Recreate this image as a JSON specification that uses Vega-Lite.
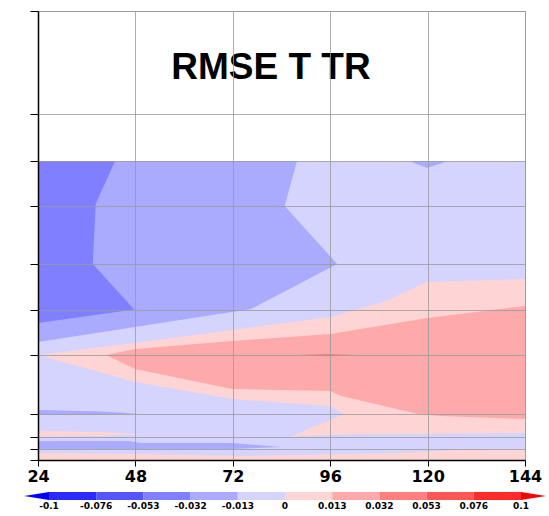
{
  "$schema": "https://vega.github.io/schema/vega-lite/v6.json",
  "padding": {"left": 23, "top": 10, "right": 4, "bottom": 2},
  "spacing": 7,
  "config": {
    "font": "DejaVu Sans",
    "view": {"stroke": null}
  },
  "datasets": {
    "contours": [
      {"poly": "bg", "band": "-0.013 to 0", "i": 0, "t": 24, "h": 0},
      {"poly": "bg", "band": "-0.013 to 0", "i": 1, "t": 144, "h": 0},
      {"poly": "bg", "band": "-0.013 to 0", "i": 2, "t": 144, "h": 299},
      {"poly": "bg", "band": "-0.013 to 0", "i": 3, "t": 24, "h": 299},

      {"poly": "c4top", "band": "-0.032 to -0.013", "i": 0, "t": 24, "h": 299},
      {"poly": "c4top", "band": "-0.032 to -0.013", "i": 1, "t": 87.8, "h": 299},
      {"poly": "c4top", "band": "-0.032 to -0.013", "i": 2, "t": 84.8, "h": 254},
      {"poly": "c4top", "band": "-0.032 to -0.013", "i": 3, "t": 97.7, "h": 196},
      {"poly": "c4top", "band": "-0.032 to -0.013", "i": 4, "t": 76.5, "h": 151},
      {"poly": "c4top", "band": "-0.032 to -0.013", "i": 5, "t": 47.9, "h": 133},
      {"poly": "c4top", "band": "-0.032 to -0.013", "i": 6, "t": 24, "h": 118},
      {"poly": "c4tri", "band": "-0.032 to -0.013", "i": 0, "t": 115.4, "h": 299},
      {"poly": "c4tri", "band": "-0.032 to -0.013", "i": 1, "t": 125, "h": 299},
      {"poly": "c4tri", "band": "-0.032 to -0.013", "i": 2, "t": 119.9, "h": 292},
      {"poly": "c4slv", "band": "-0.032 to -0.013", "i": 0, "t": 24, "h": 50},
      {"poly": "c4slv", "band": "-0.032 to -0.013", "i": 1, "t": 39.5, "h": 48.5},
      {"poly": "c4slv", "band": "-0.032 to -0.013", "i": 2, "t": 48.6, "h": 46.5},
      {"poly": "c4slv", "band": "-0.032 to -0.013", "i": 3, "t": 39.5, "h": 45.5},
      {"poly": "c4slv", "band": "-0.032 to -0.013", "i": 4, "t": 24, "h": 45.5},
      {"poly": "c4band", "band": "-0.032 to -0.013", "i": 0, "t": 24, "h": 19},
      {"poly": "c4band", "band": "-0.032 to -0.013", "i": 1, "t": 46.2, "h": 19},
      {"poly": "c4band", "band": "-0.032 to -0.013", "i": 2, "t": 49.4, "h": 17},
      {"poly": "c4band", "band": "-0.032 to -0.013", "i": 3, "t": 71.8, "h": 17},
      {"poly": "c4band", "band": "-0.032 to -0.013", "i": 4, "t": 83.9, "h": 13},
      {"poly": "c4band", "band": "-0.032 to -0.013", "i": 5, "t": 71.8, "h": 11},
      {"poly": "c4band", "band": "-0.032 to -0.013", "i": 6, "t": 24, "h": 11},

      {"poly": "c3", "band": "-0.053 to -0.032", "i": 0, "t": 24, "h": 299},
      {"poly": "c3", "band": "-0.053 to -0.032", "i": 1, "t": 43, "h": 299},
      {"poly": "c3", "band": "-0.053 to -0.032", "i": 2, "t": 38.2, "h": 256},
      {"poly": "c3", "band": "-0.053 to -0.032", "i": 3, "t": 37.5, "h": 196},
      {"poly": "c3", "band": "-0.053 to -0.032", "i": 4, "t": 47.7, "h": 150.5},
      {"poly": "c3", "band": "-0.053 to -0.032", "i": 5, "t": 24, "h": 137},

      {"poly": "c6big", "band": "0 to 0.013", "i": 0, "t": 24, "h": 105},
      {"poly": "c6big", "band": "0 to 0.013", "i": 1, "t": 47.9, "h": 117},
      {"poly": "c6big", "band": "0 to 0.013", "i": 2, "t": 71.8, "h": 130},
      {"poly": "c6big", "band": "0 to 0.013", "i": 3, "t": 96, "h": 143},
      {"poly": "c6big", "band": "0 to 0.013", "i": 4, "t": 109.8, "h": 159},
      {"poly": "c6big", "band": "0 to 0.013", "i": 5, "t": 119.6, "h": 178},
      {"poly": "c6big", "band": "0 to 0.013", "i": 6, "t": 144, "h": 181},
      {"poly": "c6big", "band": "0 to 0.013", "i": 7, "t": 144, "h": 27},
      {"poly": "c6big", "band": "0 to 0.013", "i": 8, "t": 98.7, "h": 25.5},
      {"poly": "c6big", "band": "0 to 0.013", "i": 9, "t": 86.3, "h": 23.5},
      {"poly": "c6big", "band": "0 to 0.013", "i": 10, "t": 99.4, "h": 46},
      {"poly": "c6big", "band": "0 to 0.013", "i": 11, "t": 96, "h": 54},
      {"poly": "c6big", "band": "0 to 0.013", "i": 12, "t": 71.8, "h": 61},
      {"poly": "c6big", "band": "0 to 0.013", "i": 13, "t": 47.9, "h": 78},
      {"poly": "c6slv", "band": "0 to 0.013", "i": 0, "t": 24, "h": 29},
      {"poly": "c6slv", "band": "0 to 0.013", "i": 1, "t": 39.5, "h": 28},
      {"poly": "c6slv", "band": "0 to 0.013", "i": 2, "t": 49.4, "h": 26},
      {"poly": "c6slv", "band": "0 to 0.013", "i": 3, "t": 39.5, "h": 24},
      {"poly": "c6slv", "band": "0 to 0.013", "i": 4, "t": 24, "h": 23.5},
      {"poly": "c6bot", "band": "0 to 0.013", "i": 0, "t": 24, "h": 7},
      {"poly": "c6bot", "band": "0 to 0.013", "i": 1, "t": 49.4, "h": 6},
      {"poly": "c6bot", "band": "0 to 0.013", "i": 2, "t": 74, "h": 4},
      {"poly": "c6bot", "band": "0 to 0.013", "i": 3, "t": 113.4, "h": 7},
      {"poly": "c6bot", "band": "0 to 0.013", "i": 4, "t": 127, "h": 10},
      {"poly": "c6bot", "band": "0 to 0.013", "i": 5, "t": 144, "h": 11},
      {"poly": "c6bot", "band": "0 to 0.013", "i": 6, "t": 144, "h": 0},
      {"poly": "c6bot", "band": "0 to 0.013", "i": 7, "t": 24, "h": 0},

      {"poly": "c7", "band": "0.013 to 0.032", "i": 0, "t": 40.8, "h": 105},
      {"poly": "c7", "band": "0.013 to 0.032", "i": 1, "t": 47.9, "h": 111},
      {"poly": "c7", "band": "0.013 to 0.032", "i": 2, "t": 71.8, "h": 119},
      {"poly": "c7", "band": "0.013 to 0.032", "i": 3, "t": 96, "h": 126},
      {"poly": "c7", "band": "0.013 to 0.032", "i": 4, "t": 119.9, "h": 142},
      {"poly": "c7", "band": "0.013 to 0.032", "i": 5, "t": 144, "h": 154},
      {"poly": "c7", "band": "0.013 to 0.032", "i": 6, "t": 144, "h": 41},
      {"poly": "c7", "band": "0.013 to 0.032", "i": 7, "t": 123.3, "h": 44},
      {"poly": "c7", "band": "0.013 to 0.032", "i": 8, "t": 117.6, "h": 46},
      {"poly": "c7", "band": "0.013 to 0.032", "i": 9, "t": 98.7, "h": 64},
      {"poly": "c7", "band": "0.013 to 0.032", "i": 10, "t": 96, "h": 69},
      {"poly": "c7", "band": "0.013 to 0.032", "i": 11, "t": 71.8, "h": 71},
      {"poly": "c7", "band": "0.013 to 0.032", "i": 12, "t": 47.9, "h": 91},

      {"poly": "c8", "band": "0.032 to 0.053", "i": 0, "t": 88.1, "h": 105},
      {"poly": "c8", "band": "0.032 to 0.053", "i": 1, "t": 95, "h": 106.2},
      {"poly": "c8", "band": "0.032 to 0.053", "i": 2, "t": 101.9, "h": 105},
      {"poly": "c8", "band": "0.032 to 0.053", "i": 3, "t": 95, "h": 103.8}
    ],
    "segments": [
      {"k0": 0, "k1": 1, "band": "-0.1 to -0.076"},
      {"k0": 1, "k1": 2, "band": "-0.076 to -0.053"},
      {"k0": 2, "k1": 3, "band": "-0.053 to -0.032"},
      {"k0": 3, "k1": 4, "band": "-0.032 to -0.013"},
      {"k0": 4, "k1": 5, "band": "-0.013 to 0"},
      {"k0": 5, "k1": 6, "band": "0 to 0.013"},
      {"k0": 6, "k1": 7, "band": "0.013 to 0.032"},
      {"k0": 7, "k1": 8, "band": "0.032 to 0.053"},
      {"k0": 8, "k1": 9, "band": "0.053 to 0.076"},
      {"k0": 9, "k1": 10, "band": "0.076 to 0.1"}
    ],
    "ends": [
      {"poly": "under", "band": "below -0.1", "i": 0, "k": 0, "v": 0},
      {"poly": "under", "band": "below -0.1", "i": 1, "k": -0.53, "v": 0.5},
      {"poly": "under", "band": "below -0.1", "i": 2, "k": 0, "v": 1},
      {"poly": "over", "band": "above 0.1", "i": 0, "k": 10, "v": 0},
      {"poly": "over", "band": "above 0.1", "i": 1, "k": 10.53, "v": 0.5},
      {"poly": "over", "band": "above 0.1", "i": 2, "k": 10, "v": 1}
    ],
    "ticklabels": [
      {"k": 0, "label": "-0.1"},
      {"k": 1, "label": "-0.076"},
      {"k": 2, "label": "-0.053"},
      {"k": 3, "label": "-0.032"},
      {"k": 4, "label": "-0.013"},
      {"k": 5, "label": "0"},
      {"k": 6, "label": "0.013"},
      {"k": 7, "label": "0.032"},
      {"k": 8, "label": "0.053"},
      {"k": 9, "label": "0.076"},
      {"k": 10, "label": "0.1"}
    ],
    "heading": [
      {"label": "RMSE T TR", "t": 81.4, "h": 381}
    ]
  },
  "vconcat": [
    {
      "width": 487,
      "height": 449,
      "view": {"stroke": "#a8a8a8", "strokeWidth": 1},
      "data": {"name": "contours"},
      "encoding": {
        "x": {
          "field": "t", "type": "quantitative",
          "scale": {"domain": [24, 144], "nice": false, "zero": false},
          "axis": {
            "title": null, "values": [24, 48, 72, 96, 120, 144], "format": "d",
            "labelFont": "DejaVu Sans", "labelFontWeight": "bold", "labelFontSize": 16,
            "labelColor": "#000", "labelPadding": 2, "labelFlush": false, "labelOverlap": false,
            "tickColor": "#000", "tickSize": 6, "tickWidth": 1,
            "domainColor": "#000", "domainWidth": 1.5,
            "grid": true, "gridColor": "#9a9a9a", "gridOpacity": 0.8, "gridWidth": 1,
            "zindex": 1
          }
        },
        "y": {
          "field": "h", "type": "quantitative",
          "scale": {"domain": [0, 449], "nice": false, "zero": false},
          "axis": {
            "title": null, "values": [0, 11, 23, 46, 105, 150, 196, 254, 299, 346, 449],
            "labels": false, "tickColor": "#000", "tickSize": 8, "tickWidth": 1,
            "domainColor": "#000", "domainWidth": 1.5,
            "grid": true, "gridColor": "#9a9a9a", "gridOpacity": 0.8, "gridWidth": 1,
            "minExtent": 0, "zindex": 1
          }
        }
      },
      "layer": [
        {
          "transform": [{"filter": "datum.band === '-0.013 to 0'"}],
          "mark": {"type": "line", "strokeWidth": 0},
          "encoding": {
            "detail": {"field": "poly"},
            "order": {"field": "i", "type": "quantitative"},
            "fill": {"field": "band", "type": "nominal", "legend": null,
              "scale": {
                "domain": ["below -0.1", "-0.1 to -0.076", "-0.076 to -0.053", "-0.053 to -0.032", "-0.032 to -0.013", "-0.013 to 0", "0 to 0.013", "0.013 to 0.032", "0.032 to 0.053", "0.053 to 0.076", "0.076 to 0.1", "above 0.1"],
                "range": ["#0000ff", "#2a2aff", "#5555ff", "#7f7fff", "#aaaaff", "#d4d4ff", "#ffd4d4", "#ffaaaa", "#ff7f7f", "#ff5555", "#ff2a2a", "#ff0000"]
              }}
          }
        },
        {
          "transform": [{"filter": "datum.band === '-0.032 to -0.013'"}],
          "mark": {"type": "line", "strokeWidth": 0},
          "encoding": {
            "detail": {"field": "poly"},
            "order": {"field": "i", "type": "quantitative"},
            "fill": {"field": "band", "type": "nominal", "legend": null}
          }
        },
        {
          "transform": [{"filter": "datum.band === '-0.053 to -0.032'"}],
          "mark": {"type": "line", "strokeWidth": 0},
          "encoding": {
            "detail": {"field": "poly"},
            "order": {"field": "i", "type": "quantitative"},
            "fill": {"field": "band", "type": "nominal", "legend": null}
          }
        },
        {
          "transform": [{"filter": "datum.band === '0 to 0.013'"}],
          "mark": {"type": "line", "strokeWidth": 0},
          "encoding": {
            "detail": {"field": "poly"},
            "order": {"field": "i", "type": "quantitative"},
            "fill": {"field": "band", "type": "nominal", "legend": null}
          }
        },
        {
          "transform": [{"filter": "datum.band === '0.013 to 0.032'"}],
          "mark": {"type": "line", "strokeWidth": 0},
          "encoding": {
            "detail": {"field": "poly"},
            "order": {"field": "i", "type": "quantitative"},
            "fill": {"field": "band", "type": "nominal", "legend": null}
          }
        },
        {
          "transform": [{"filter": "datum.band === '0.032 to 0.053'"}],
          "mark": {"type": "line", "strokeWidth": 0},
          "encoding": {
            "detail": {"field": "poly"},
            "order": {"field": "i", "type": "quantitative"},
            "fill": {"field": "band", "type": "nominal", "legend": null}
          }
        },
        {
          "data": {"name": "heading"},
          "mark": {"type": "text", "font": "Liberation Sans", "fontWeight": "bold", "fontSize": 37, "align": "center", "baseline": "alphabetic", "color": "#000"},
          "encoding": {"text": {"field": "label"}}
        },
        {
          "data": {"values": [{}]},
          "mark": {"type": "rule", "color": "#000", "strokeWidth": 1.5},
          "encoding": {"x": {"datum": 144}, "y": {"datum": 0}, "y2": {"datum": 449}}
        }
      ]
    },
    {
      "width": 487,
      "height": 8,
      "view": {"stroke": null},
      "layer": [
        {
          "data": {"name": "segments"},
          "mark": {"type": "rect"},
          "encoding": {
            "x": {"field": "k0", "type": "quantitative", "scale": {"domain": [-0.233, 10.085], "nice": false, "zero": false}, "axis": null},
            "x2": {"field": "k1"},
            "y": {"datum": 0, "type": "quantitative", "scale": {"domain": [0, 1], "nice": false, "zero": false}, "axis": null},
            "y2": {"datum": 1},
            "fill": {"field": "band", "type": "nominal", "legend": null}
          }
        },
        {
          "data": {"name": "ends"},
          "mark": {"type": "line", "strokeWidth": 0},
          "encoding": {
            "x": {"field": "k", "type": "quantitative"},
            "y": {"field": "v", "type": "quantitative"},
            "detail": {"field": "poly"},
            "order": {"field": "i", "type": "quantitative"},
            "fill": {"field": "band", "type": "nominal", "legend": null}
          }
        },
        {
          "data": {"name": "ticklabels"},
          "mark": {"type": "text", "baseline": "top", "dy": 2, "fontSize": 9, "fontWeight": "bold", "font": "DejaVu Sans", "color": "#000"},
          "encoding": {
            "x": {"field": "k", "type": "quantitative"},
            "y": {"datum": 0},
            "text": {"field": "label"}
          }
        }
      ]
    }
  ]
}
